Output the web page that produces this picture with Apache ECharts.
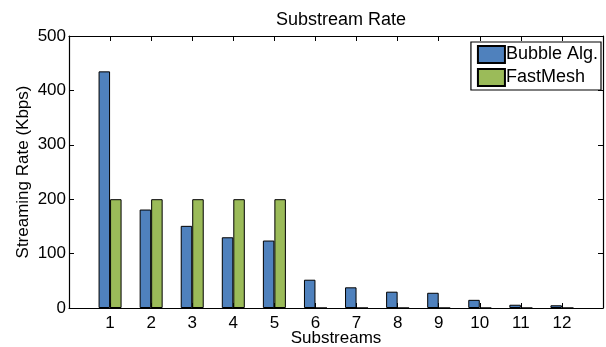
<!DOCTYPE html>
<html>
<head>
<meta charset="utf-8">
<script src="https://cdn.jsdelivr.net/npm/echarts@6/dist/echarts.min.js"></script>
<style>
  html, body { margin: 0; padding: 0; background: #fff; }
  #chart { width: 606px; height: 347px; }
</style>
</head>
<body>
<div id="chart"></div>
<script>
var substreams = [1, 2, 3, 4, 5, 6, 7, 8, 9, 10, 11, 12];
var bubbleAlg = [435, 181, 151, 130, 124, 52, 38, 30, 28, 15, 6, 5];
var fastMesh = [200, 200, 200, 200, 200, 0, 0, 0, 0, 0, 0, 0];
var yTicks = [0, 100, 200, 300, 400, 500];

var chartDom = document.getElementById('chart');
var myChart = echarts.init(chartDom);

function pairs(vals) {
    return substreams.map(function (s, i) { return [s, vals[i]]; });
}

var font = 'Liberation Sans, Arial, Helvetica, sans-serif';
var black = '#000';

var xBase = {
    type: 'value',
    min: 0,
    max: substreams.length + 1,
    interval: 1,
    axisLine: { show: true, onZero: false, lineStyle: { color: black, width: 1.2 } },
    axisTick: { show: true, inside: true, length: 5, lineStyle: { color: black } },
    splitLine: { show: false }
};

var yBase = {
    type: 'value',
    min: yTicks[0],
    max: yTicks[yTicks.length - 1],
    interval: 100,
    axisLine: { show: true, onZero: false, lineStyle: { color: black, width: 1.2 } },
    axisTick: { show: true, inside: true, length: 5, lineStyle: { color: black } },
    splitLine: { show: false }
};

var option = {
    animation: false,
    title: {
        text: 'Substream Rate',
        left: 336,
        textAlign: 'center',
        top: 6,
        textStyle: { fontFamily: font, fontSize: 18, fontWeight: 'normal', color: black }
    },
    legend: {
        orient: 'vertical',
        right: 5,
        top: 42,
        icon: 'rect',
        itemWidth: 27,
        itemHeight: 17,
        itemGap: 4,
        padding: [3, 3, 3, 6],
        borderColor: black,
        borderWidth: 1.2,
        backgroundColor: '#fff',
        borderRadius: 0,
        textStyle: { fontFamily: font, fontSize: 18, color: black, padding: [0, 0, 0, -4] },
        data: ['Bubble Alg.', 'FastMesh']
    },
    grid: { left: 69, right: 3, top: 36, bottom: 39, outerBoundsMode: 'none' },
    xAxis: [
        Object.assign({}, xBase, {
            position: 'bottom',
            name: 'Substreams',
            nameLocation: 'middle',
            nameGap: 22,
            nameMoveOverlap: false,
            nameTextStyle: { fontFamily: font, fontSize: 17, color: black },
            axisLabel: {
                fontFamily: font, fontSize: 17, color: black, margin: 7,
                formatter: function (v) { return substreams.indexOf(v) >= 0 ? String(v) : ''; }
            }
        }),
        Object.assign({}, xBase, {
            position: 'top',
            axisLabel: { show: false }
        })
    ],
    yAxis: [
        Object.assign({}, yBase, {
            position: 'left',
            name: 'Streaming Rate (Kbps)',
            nameLocation: 'middle',
            nameGap: 37,
            nameMoveOverlap: false,
            nameTextStyle: { fontFamily: font, fontSize: 17, color: black },
            axisLabel: { fontFamily: font, fontSize: 17, color: black, margin: 3 }
        }),
        Object.assign({}, yBase, {
            position: 'right',
            axisLabel: { show: false }
        })
    ],
    series: [
        {
            name: 'Bubble Alg.',
            type: 'bar',
            data: pairs(bubbleAlg),
            barWidth: 11.5,
            barGap: '0%',
            itemStyle: { color: '#4f81bd', borderColor: black, borderWidth: 1 }
        },
        {
            name: 'FastMesh',
            type: 'bar',
            data: pairs(fastMesh),
            barWidth: 11.5,
            barGap: '0%',
            itemStyle: { color: '#9bbb59', borderColor: black, borderWidth: 1 }
        }
    ]
};

option && myChart.setOption(option);
</script>
</body>
</html>
